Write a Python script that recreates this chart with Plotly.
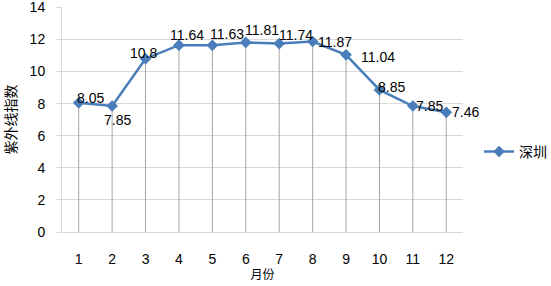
import plotly.graph_objects as go

months = ["1", "2", "3", "4", "5", "6", "7", "8", "9", "10", "11", "12"]
uv_shenzhen = [8.05, 7.85, 10.8, 11.64, 11.63, 11.81, 11.74, 11.87, 11.04, 8.85, 7.85, 7.46]
series_name = "深圳"
y_ticks = [0, 2, 4, 6, 8, 10, 12, 14]

# label pixel offsets (dx, dy) relative to each point (style only)
label_offsets = [(12, 5), (5, -14), (-2, 6), (8, 10), (15, 11), (16, 12), (17, 9),
                 (22, 0), (32, -2), (12, 3), (17, 0), (19, 0)]

line_color = "#4A7EBB"
grid_color = "#D9D9D9"
drop_color = "#A6A6A6"
tick_font = dict(family="Liberation Sans, Arial, sans-serif", size=14, color="#000000")
cjk_font = "Noto Sans CJK SC, sans-serif"

fig = go.Figure()
fig.add_trace(go.Scatter(
    x=months, y=uv_shenzhen, name=series_name,
    mode="lines+markers",
    line=dict(color=line_color, width=2.5),
    marker=dict(symbol="diamond", size=9, color=line_color),
    error_y=dict(type="data", symmetric=False,
                 array=[0] * len(uv_shenzhen), arrayminus=uv_shenzhen,
                 color=drop_color, thickness=1, width=0),
))

annotations = []
for idx, (v, (dx, dy)) in enumerate(zip(uv_shenzhen, label_offsets)):
    annotations.append(dict(
        x=idx, y=v, text=f"{v:g}", showarrow=False,
        xanchor="center", yanchor="middle", xshift=dx, yshift=dy,
        font=dict(family="Liberation Sans, Arial, sans-serif", size=14, color="#000000"),
    ))

fig.update_layout(
    width=551, height=286,
    margin=dict(l=62, r=88, t=7, b=54, autoexpand=False),
    paper_bgcolor="white", plot_bgcolor="white",
    showlegend=True,
    legend=dict(x=1.04, xanchor="left", y=0.356, yanchor="middle",
                font=dict(family=cjk_font, size=14, color="#000000"),
                bgcolor="rgba(0,0,0,0)"),
    annotations=annotations,
    xaxis=dict(
        type="category", categoryorder="array", categoryarray=months,
        range=[-0.5, 11.5], automargin=False,
        showgrid=False, zeroline=False,
        showline=False,
        ticks="outside", ticklen=14, tickcolor="rgba(0,0,0,0)",
        tickfont=tick_font,
        title=dict(text="月份", font=dict(family=cjk_font, size=12, color="#000000"), standoff=4),
    ),
    yaxis=dict(
        range=[0, 14.02], tickvals=y_ticks, automargin=False,
        showgrid=True, gridcolor=grid_color, gridwidth=1,
        zeroline=True, zerolinecolor=grid_color, zerolinewidth=1,
        showline=True, linecolor=grid_color, linewidth=1,
        ticks="outside", ticklen=5, tickcolor=grid_color, ticklabelstandoff=8,
        ticklabeloverflow="allow",
        tickfont=tick_font,
        title=dict(text="紫外线指数", font=dict(family=cjk_font, size=14, color="#000000"), standoff=18),
    ),
)

fig.write_html("out.html", config={"displayModeBar": False},
               post_script="document.body.style.margin='0';document.body.style.padding='0';")
